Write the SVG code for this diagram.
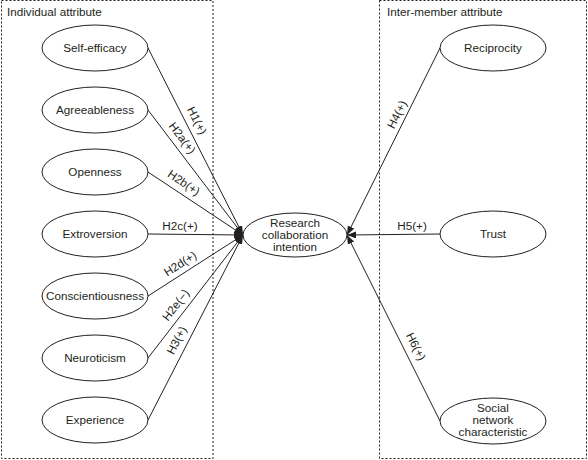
<svg xmlns="http://www.w3.org/2000/svg" width="588" height="460" viewBox="0 0 588 460">
<defs>
<style>
text{font-family:"Liberation Sans",Arial,sans-serif;font-size:11.7px;fill:#231f20}
.n{text-anchor:middle}
.box{fill:none;stroke:#231f20;stroke-width:1;stroke-dasharray:2,2}
ellipse{fill:#fff;stroke:#231f20;stroke-width:1}
.c line{stroke:#231f20;stroke-width:1;marker-end:url(#ah)}
</style>
<marker id="ah" markerUnits="userSpaceOnUse" markerWidth="10" markerHeight="8" refX="9" refY="3.5" orient="auto">
<path d="M0,0 L9,3.5 L0,7 z" fill="#231f20"/>
</marker>
</defs>
<rect width="588" height="460" fill="#fff"/>
<g id="groups">
<rect class="box" x="1.5" y="0.5" width="211.5" height="458"/>
<text x="7" y="16">Individual attribute</text>
<rect class="box" x="379.5" y="0.5" width="207" height="458"/>
<text x="387" y="16">Inter-member attribute</text>
</g>
<g class="c" id="connectors">
<line x1="148" y1="48" x2="243" y2="235"/>
<line x1="148" y1="110" x2="243" y2="235"/>
<line x1="148" y1="172" x2="243" y2="235"/>
<line x1="148" y1="234" x2="243" y2="235"/>
<line x1="148" y1="296" x2="243" y2="235"/>
<line x1="148" y1="358" x2="243" y2="235"/>
<line x1="148" y1="420" x2="243" y2="235"/>
<line x1="440" y1="48" x2="347" y2="235"/>
<line x1="440" y1="234" x2="347" y2="235"/>
<line x1="440" y1="421" x2="347" y2="235"/>
</g>
<g id="labels">
<text class="n" transform="translate(196,121) rotate(63.2)" y="3">H1(+)</text>
<text class="n" transform="translate(181,139) rotate(53)" y="2.5">H2a(+)</text>
<text class="n" transform="translate(183,184) rotate(34)" y="2.5">H2b(+)</text>
<text class="n" x="180" y="230">H2c(+)</text>
<text class="n" transform="translate(181,265) rotate(-32.7)" y="2.5">H2d(+)</text>
<text class="n" transform="translate(177,306) rotate(-52.3)" y="2.5">H2e(−)</text>
<text class="n" transform="translate(178,341) rotate(-62.8)" y="2.5">H3(+)</text>
<text class="n" transform="translate(398,115) rotate(-63.6)" y="3">H4(+)</text>
<text class="n" x="412" y="230">H5(+)</text>
<text class="n" transform="translate(415,347) rotate(63.4)" y="3">H6(+)</text>
</g>
<g id="self-efficacy"><ellipse cx="95" cy="48" rx="53" ry="23"/><text class="n" x="95" y="52">Self-efficacy</text></g>
<g id="agreeableness"><ellipse cx="95" cy="110" rx="53" ry="23"/><text class="n" x="95" y="114">Agreeableness</text></g>
<g id="openness"><ellipse cx="95" cy="172" rx="53" ry="23"/><text class="n" x="95" y="176">Openness</text></g>
<g id="extroversion"><ellipse cx="95" cy="234" rx="53" ry="23"/><text class="n" x="95" y="238">Extroversion</text></g>
<g id="conscientiousness"><ellipse cx="95" cy="296" rx="53" ry="23"/><text class="n" x="95" y="300">Conscientiousness</text></g>
<g id="neuroticism"><ellipse cx="95" cy="358" rx="53" ry="23"/><text class="n" x="95" y="362">Neuroticism</text></g>
<g id="experience"><ellipse cx="95" cy="420" rx="53" ry="23"/><text class="n" x="95" y="424">Experience</text></g>
<g id="research-collaboration-intention"><ellipse cx="295" cy="235" rx="52" ry="22"/><text class="n" x="295" y="227">Research</text><text class="n" x="295" y="239">collaboration</text><text class="n" x="295" y="251">intention</text></g>
<g id="reciprocity"><ellipse cx="493" cy="48" rx="53" ry="23"/><text class="n" x="493" y="52">Reciprocity</text></g>
<g id="trust"><ellipse cx="493" cy="234" rx="53" ry="23"/><text class="n" x="493" y="238">Trust</text></g>
<g id="social-network-characteristic"><ellipse cx="493" cy="421" rx="53" ry="23"/><text class="n" x="493" y="412">Social</text><text class="n" x="493" y="424">network</text><text class="n" x="493" y="436">characteristic</text></g>
</svg>
